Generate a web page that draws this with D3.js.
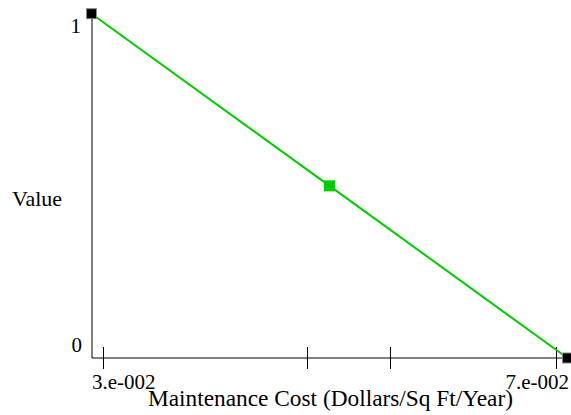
<!DOCTYPE html>
<html><head><meta charset="utf-8">
<script src="https://cdn.jsdelivr.net/npm/d3@7"></script>
<style>
html,body{margin:0;padding:0;background:#fff;}
</style></head>
<body><svg id="c" width="571" height="415"></svg>
<script>
const xValues = [0.029, 0.05, 0.071];
const yValues = [1, 0.5, 0];
const xTickValues = [0.03, 0.048, 0.0553, 0.07];
const xTickLabels = ["3.e-002", "7.e-002"];
const yTickLabels = ["1", "0"];
const xTitle = "Maintenance Cost (Dollars/Sq Ft/Year)";
const yTitle = "Value";

const FONT = "'Liberation Serif', 'Times New Roman', Times, serif";
const svg = d3.select("#c").attr("font-family", FONT);
const x = d3.scaleLinear().domain([0.029, 0.071]).range([91.5, 567.5]);
const y = d3.scaleLinear().domain([0, 1]).range([358, 13.7]);

svg.append("line").attr("x1", 92).attr("x2", 92).attr("y1", y(1)).attr("y2", y(0))
  .attr("stroke", "#000").attr("stroke-width", 1);
svg.append("line").attr("x1", 92).attr("x2", 571).attr("y1", 358).attr("y2", 358)
  .attr("stroke", "#000").attr("stroke-width", 1);

svg.selectAll("line.tick").data(xTickValues).join("line").attr("class", "tick")
  .attr("x1", d => Math.round(x(d)) + 0.5).attr("x2", d => Math.round(x(d)) + 0.5)
  .attr("y1", 347).attr("y2", 369).attr("stroke", "#000").attr("stroke-width", 1);

function txt(t, xx, yy, size, anchor) {
  return svg.append("text").attr("x", xx).attr("y", yy).attr("font-size", size)
    .attr("font-family", FONT).attr("fill", "#000").attr("text-anchor", anchor).text(t);
}
txt(xTickLabels[0], 92, 389, 21, "start");
txt(xTickLabels[1], 569, 389, 21, "end");
txt(yTickLabels[0], 81, y(1) + 19, 21, "end");
txt(yTickLabels[1], 82, y(0) - 6, 21, "end");
txt(yTitle, 12, 206, 22, "start");
txt(xTitle, 148, 406, 23, "start")
  .attr("textLength", 365).attr("lengthAdjust", "spacingAndGlyphs");

const pts = xValues.map((d, i) => [d, yValues[i]]);
svg.append("path").datum(pts)
  .attr("d", d3.line().x(d => x(d[0])).y(d => y(d[1])))
  .attr("fill", "none").attr("stroke", "#00cc00").attr("stroke-width", 2);

svg.selectAll("rect.m").data(pts).join("rect").attr("class", "m")
  .attr("x", (d, i) => x(d[0]) - (i === 1 ? 5.5 : 5))
  .attr("y", (d, i) => y(d[1]) - (i === 1 ? 5.5 : 5))
  .attr("width", (d, i) => i === 1 ? 11 : 10)
  .attr("height", (d, i) => i === 1 ? 11 : 10)
  .attr("fill", (d, i) => i === 1 ? "#00cc00" : "#000")
  .attr("stroke", (d, i) => i === 1 ? "none" : "#888")
  .attr("stroke-width", 1);
</script></body></html>
